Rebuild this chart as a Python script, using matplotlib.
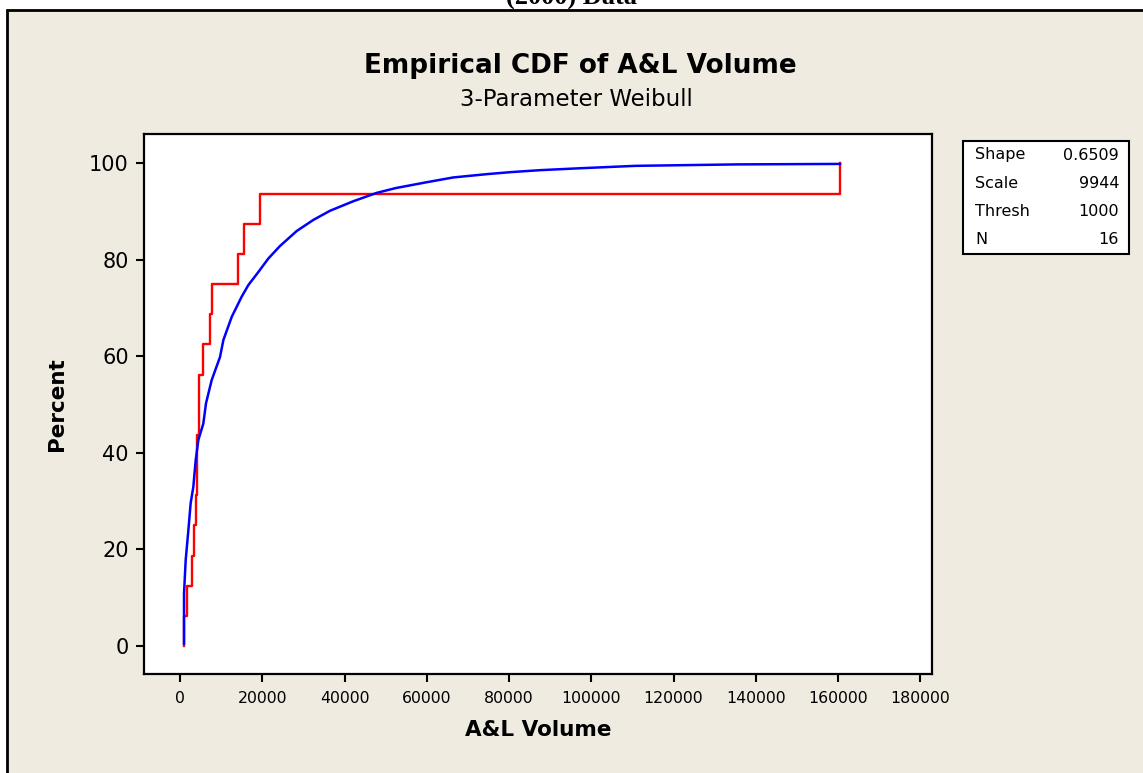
import matplotlib
matplotlib.use("Agg")
import matplotlib.pyplot as plt
from matplotlib.patches import Rectangle

# empirical data (sorted A&L volumes) and ECDF percents
al_volume = [970, 1780, 2920, 3400, 3890, 4220, 4220, 4700, 4700, 5670,
             7300, 7780, 14100, 15500, 19460, 160500]
ecdf_pct = [6.25, 12.5, 18.75, 25.0, 31.25, 37.5, 43.75, 50.0, 56.25, 62.5,
            68.75, 75.0, 81.25, 87.5, 93.75, 100.0]

# fitted 3-parameter weibull cdf
fit_x = [970, 975, 1380, 2030, 2590, 3240, 3810, 4460, 5670, 6320, 7700,
         9730, 10540, 12570, 15000, 16620, 19050, 21480, 24320, 28380,
         32430, 36490, 42240, 47830, 52480, 59940, 66460, 74850, 80430,
         87420, 97210, 110710, 135400, 160500]
fit_pct = [0.5, 10.9, 17.8, 24.0, 29.6, 33.0, 38.5, 42.7, 46.1, 50.3, 55.1,
           59.9, 63.4, 68.2, 72.4, 74.8, 77.5, 80.3, 82.9, 86.0,
           88.3, 90.2, 92.2, 93.9, 94.9, 96.1, 97.1, 97.8, 98.2,
           98.6, 99.0, 99.5, 99.8, 99.9]

stats_names = ["Shape", "Scale", "Thresh", "N"]
stats_values = ["0.6509", "9944", "1000", "16"]

x_ticks = list(range(0, 180001, 20000))
y_ticks = [0, 20, 40, 60, 80, 100]

bg = "#efebe1"
font = "DejaVu Sans"

fig = plt.figure(figsize=(11.43, 7.73), dpi=100, facecolor="white")
W, H = 1143, 773

# minitab frame
fig.patches.append(Rectangle((7 / W, -0.02), 1.05, 1 - 10 / H + 0.02,
                             transform=fig.transFigure, facecolor=bg,
                             edgecolor="black", linewidth=2, zorder=-5))

fig.text(571 / W, 1 - 5 / H, "(2000) Data", ha="center", va="baseline",
         fontsize=19, fontweight="bold", family="Liberation Serif")

ax = fig.add_axes([144 / W, 1 - 674 / H, (932 - 144) / W, (674 - 134) / H])
ax.set_facecolor("white")

xs = [al_volume[0]] + al_volume
ys = [0] + ecdf_pct
ax.step(xs, ys, where="post", color="#ff0000", lw=1.7, zorder=2)
ax.plot(fit_x, fit_pct, color="#0000ff", lw=1.8, zorder=3)

ax.set_xlim(-8757, 182850)
ax.set_ylim(-5.8, 106.1)
ax.set_xticks(x_ticks)
ax.set_xticklabels([str(t) for t in x_ticks], family=font, fontsize=11.3)
ax.set_yticks(y_ticks)
ax.set_yticklabels([str(t) for t in y_ticks], family=font, fontsize=15)
ax.tick_params(axis="both", direction="out", length=6, width=1.5, colors="black")
ax.tick_params(axis="x", pad=6)
ax.tick_params(axis="y", pad=5)
for s in ax.spines.values():
    s.set_linewidth(1.6)
    s.set_color("black")

ax.set_xlabel("A&L Volume", family=font, fontsize=15.5, fontweight="bold", labelpad=10)
ax.set_ylabel("Percent", family=font, fontsize=15.5, fontweight="bold", labelpad=16)

fig.text(580 / W, 1 - 66 / H, "Empirical CDF of A&L Volume", ha="center",
         va="center", family=font, fontsize=18.9, fontweight="bold")
fig.text(576 / W, 1 - 99 / H, "3-Parameter Weibull", ha="center",
         va="center", family=font, fontsize=16.5)

# stats box
fig.patches.append(Rectangle((963 / W, 1 - 254 / H), (1129 - 963) / W, (254 - 141) / H,
                             transform=fig.transFigure, facecolor="white",
                             edgecolor="black", linewidth=1.5, zorder=1))
for i, (n, v) in enumerate(zip(stats_names, stats_values)):
    yy = 1 - (155 + 28 * i) / H
    fig.text(975 / W, yy, n, ha="left", va="center", family=font, fontsize=11.5)
    fig.text(1119 / W, yy, v, ha="right", va="center", family=font, fontsize=11.5)

fig.savefig("out.png", dpi=100, facecolor=fig.get_facecolor())
